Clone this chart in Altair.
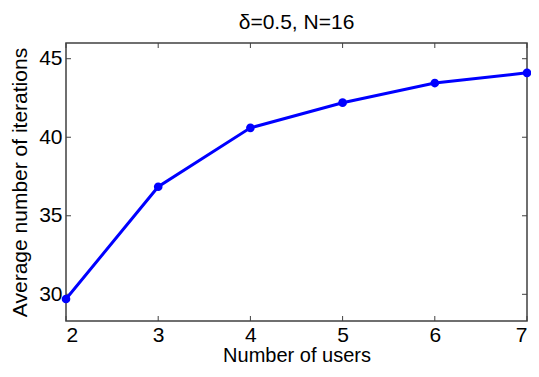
import altair as alt
import pandas as pd

users = [2, 3, 4, 5, 6, 7]
iterations = [29.7, 36.85, 40.6, 42.2, 43.45, 44.1]
x_ticks = [2, 3, 4, 5, 6, 7]
y_ticks = [30, 35, 40, 45]

df = pd.DataFrame({"users": users, "iters": iterations})
W, H = 461, 278
FONT = "Liberation Sans"
FS = 21

xs = alt.Scale(domain=[2, 7], nice=False)
ys = alt.Scale(domain=[28.3, 46], nice=False)

base = alt.Chart(df)
line = base.mark_line(color="#0000ff", strokeWidth=3, clip=False).encode(
    x=alt.X("users:Q", scale=xs,
            axis=alt.Axis(values=x_ticks, title="Number of users", grid=False,
                          domain=False, ticks=False, labelPadding=3,
                          labelFontSize=FS, titleFontSize=20, titleFontWeight="normal",
                          labelColor="black", titleColor="black", titlePadding=0,
                          labelFont=FONT, titleFont=FONT, format="d")),
    y=alt.Y("iters:Q", scale=ys,
            axis=alt.Axis(values=y_ticks, title="Average number of iterations", grid=False,
                          domain=False, ticks=False, labelPadding=4,
                          labelFontSize=FS, titleFontSize=FS, titleFontWeight="normal",
                          labelColor="black", titleColor="black", titlePadding=8,
                          labelFont=FONT, titleFont=FONT, format="d")),
)
points = base.mark_circle(color="#0000ff", size=75, opacity=1, clip=False).encode(
    x=alt.X("users:Q", scale=xs), y=alt.Y("iters:Q", scale=ys)
)

xt = pd.DataFrame({"t": x_ticks})
yt = pd.DataFrame({"t": y_ticks})
tick_style = dict(color="#404040", strokeWidth=1)
xb = alt.Chart(xt).mark_rule(**tick_style).encode(x=alt.X("t:Q", scale=xs), y=alt.value(H), y2=alt.value(H - 5))
xtop = alt.Chart(xt).mark_rule(**tick_style).encode(x=alt.X("t:Q", scale=xs), y=alt.value(0), y2=alt.value(5))
yl = alt.Chart(yt).mark_rule(**tick_style).encode(y=alt.Y("t:Q", scale=ys), x=alt.value(0), x2=alt.value(5))
yr = alt.Chart(yt).mark_rule(**tick_style).encode(y=alt.Y("t:Q", scale=ys), x=alt.value(W), x2=alt.value(W - 5))

chart = alt.layer(xb, xtop, yl, yr, line, points).properties(
    width=W, height=H,
    title=alt.TitleParams("δ=0.5, N=16", fontSize=FS, font=FONT, fontWeight="normal",
                          color="black", offset=10),
    autosize=alt.AutoSizeParams(type="none"),
    padding={"left": 58, "top": 35, "right": 4, "bottom": 48},
).configure(background="white").configure_view(stroke="#404040", strokeWidth=1.5)

chart.save("out.html", embed_options={"renderer": "svg", "actions": False})
